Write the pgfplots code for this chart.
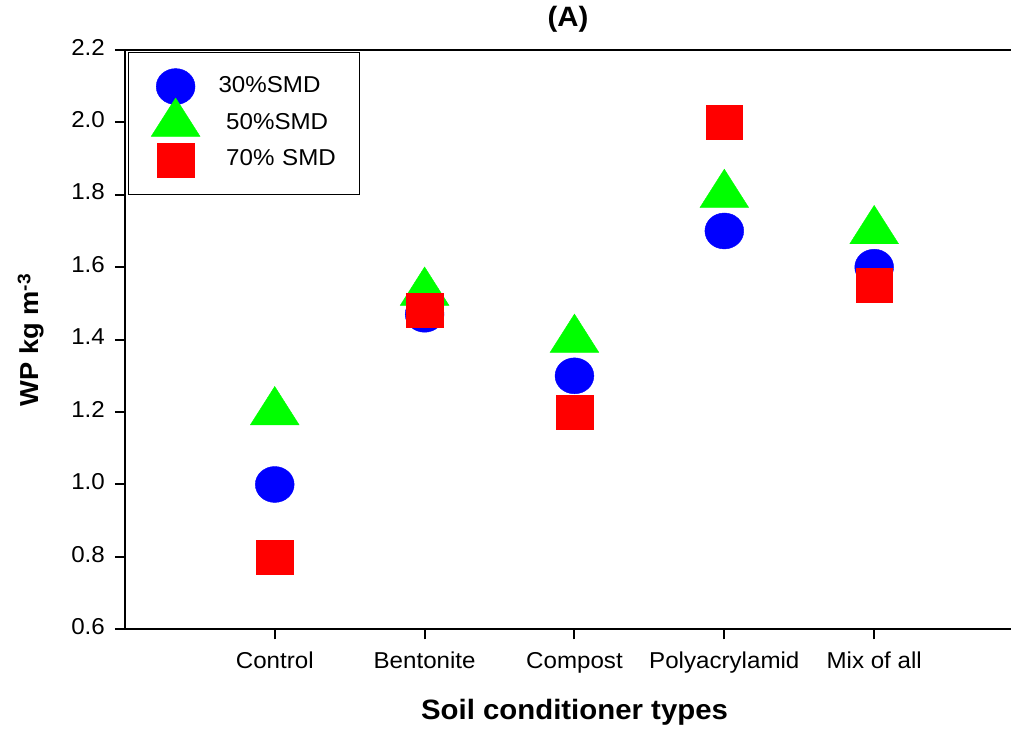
\documentclass[border=0pt]{standalone}
\usepackage{pgfplots}
\pgfplotsset{compat=1.18}
\usepackage{fontspec}
\setmainfont{Liberation Sans}[FakeStretch=1.05]
\begin{document}
\begin{tikzpicture}
\begin{axis}[
  scale only axis,
  width=443.5pt, height=290pt,
  xmin=-1, xmax=4.913,
  ymin=0.6, ymax=2.2,
  axis y line*=left, axis x line*=bottom,
  axis line style={line width=1pt, -},
  tick style={line width=1pt, black},
  tick align=outside,
  major tick length=5pt,
  xtick={0,1,2,3,4},
  xticklabels={Control,Bentonite,Compost,Polyacrylamid,Mix of all},
  ytick={0.6,0.8,1.0,1.2,1.4,1.6,1.8,2.0,2.2},
  yticklabel style={xshift=-1.5pt, /pgf/number format/.cd, fixed, fixed zerofill, precision=1},
  /pgf/number format/assume math mode=true,
  tick label style={font=\fontsize{11.5}{13}\selectfont},
  typeset ticklabels with strut,
  xticklabel style={yshift=-2pt},
  xlabel={\textbf{Soil conditioner types}},
  ylabel={\textbf{WP kg m\textsuperscript{-3}}},
  xlabel style={font=\fontsize{14}{16}\selectfont, at={([xshift=3.3pt,yshift=-45pt]axis description cs:0.5,0)}, anchor=base},
  ylabel style={font=\fontsize{13}{15}\selectfont, at={([xshift=-43pt]axis description cs:0,0.5)}, anchor=base},
  title={\textbf{(A)}},
  title style={font=\fontsize{14}{16}\selectfont, at={([yshift=5.5pt]axis description cs:0.5,1)}, anchor=base},
  legend style={at={(rel axis cs:0,1)}, anchor=north west, xshift=1.5pt, yshift=-1pt,
    draw=black, line width=0.8pt, font=\fontsize{11.5}{13}\selectfont,
    inner xsep=8.5pt, inner ysep=7.7pt, row sep=0pt, column sep=0pt,
    nodes={inner xsep=0pt, inner ysep=0pt, text height=8pt, text depth=2.5pt, text width=62pt, align=left}},
  legend cell align=left,
  legend image code/.code={
    \path[draw=none, fill=none] (0pt,-9.25pt) rectangle (36.5pt,9.25pt);
    \pgfinterruptboundingbox
    \draw[#1, only marks] plot coordinates {(15pt,0pt)};
    \endpgfinterruptboundingbox
  },
  clip=false,
]
\path ([xshift=-62.5pt]rel axis cs:0,0.5);
\path ([yshift=24pt]rel axis cs:0.5,1);
\path ([yshift=-50.5pt]rel axis cs:0.5,0);
\draw[line width=1pt] (rel axis cs:0,1) -- (rel axis cs:1,1);
\addplot[only marks, mark=*, mark size=9pt, mark options={draw=blue, fill=blue, line width=0.2pt, xscale=1.08}]
  coordinates {(0,1.00) (1,1.47) (2,1.30) (3,1.70) (4,1.60)};
\addlegendentry{30\%SMD}
\addplot[only marks, mark=triangle*, mark size=12.8pt, mark options={draw=green, fill=green, line width=0.2pt, xscale=1.1}]
  coordinates {(0,1.20) (1,1.53) (2,1.40) (3,1.80) (4,1.70)};
\addlegendentry{\ 50\%SMD}
\addplot[only marks, mark=square*, mark size=8.5pt, mark options={draw=red, fill=red, line width=0.2pt, xscale=1.08}]
  coordinates {(0,0.80) (1,1.48) (2,1.20) (3,2.00) (4,1.55)};
\addlegendentry{\ 70\% SMD}
\end{axis}
\end{tikzpicture}
\end{document}
